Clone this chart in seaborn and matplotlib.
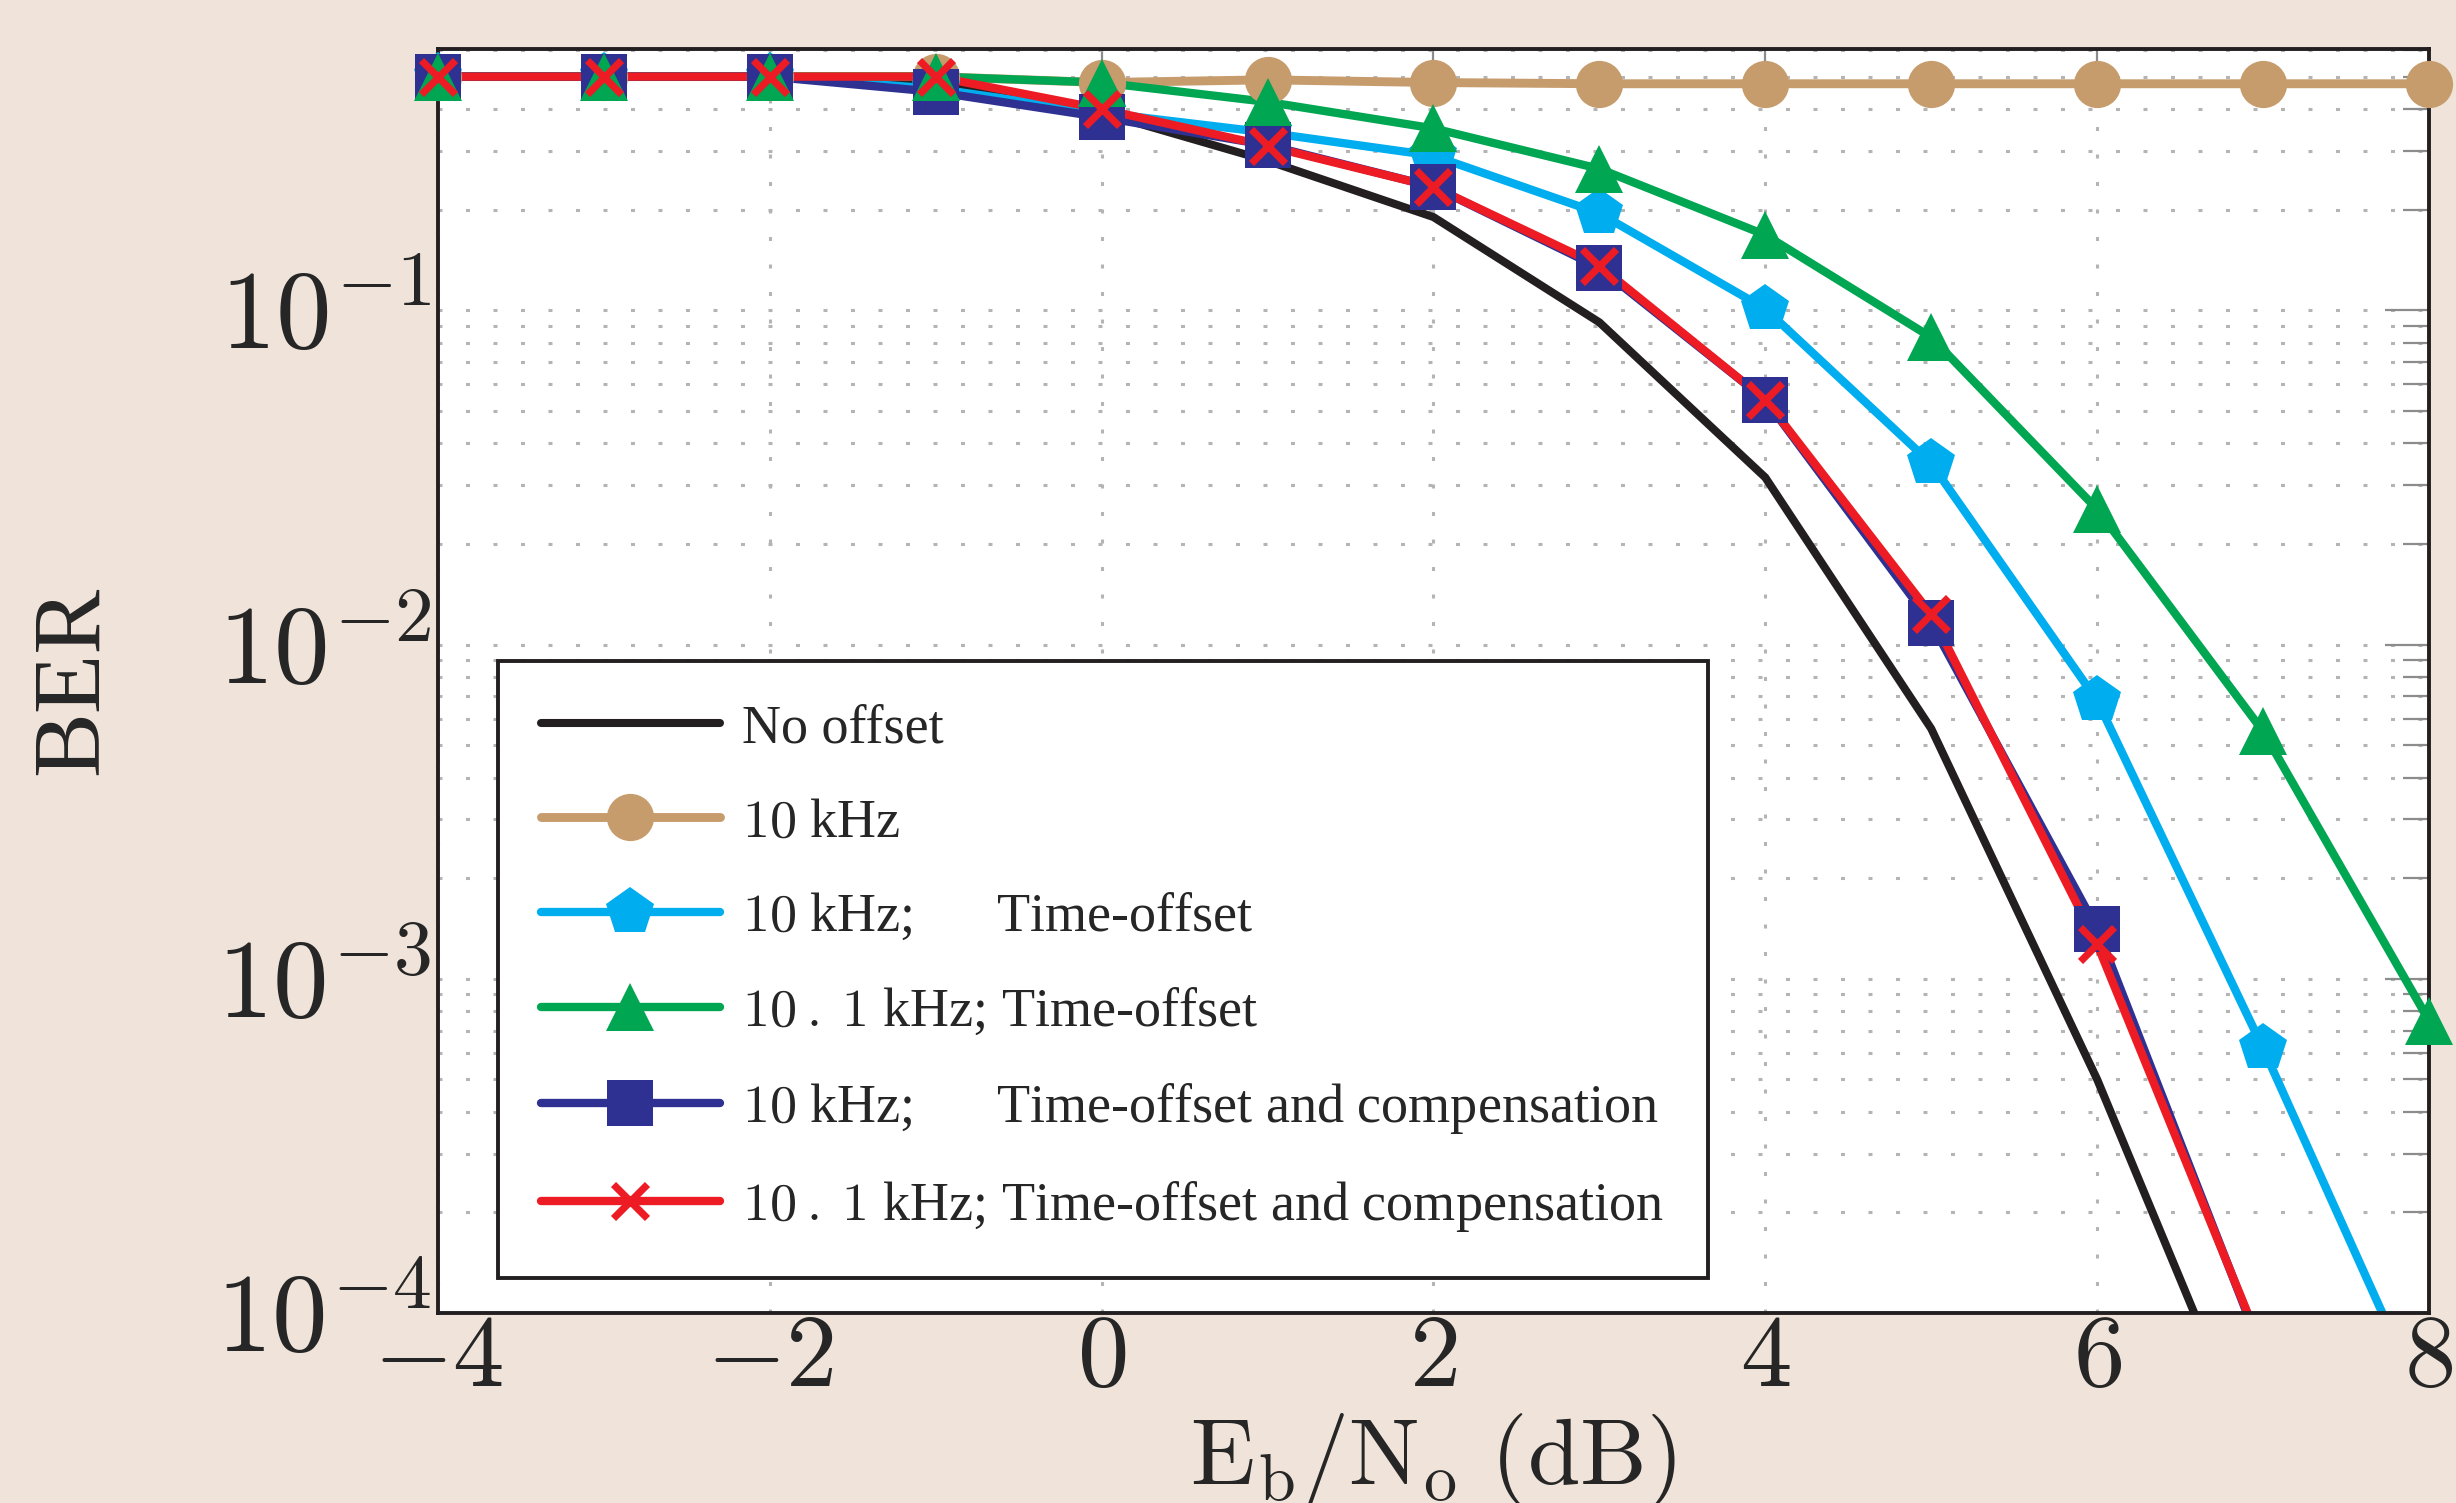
import matplotlib
matplotlib.use('Agg')
import matplotlib.pyplot as plt
from matplotlib.lines import Line2D
from matplotlib.ticker import LogLocator, NullFormatter
import seaborn as sns

# Eb/No (dB) and BER
snr = [-4, -3, -2, -1, 0, 1, 2, 3, 4, 5, 6, 7, 8]

ber_no_offset = [0.5, 0.5, 0.5, 0.49, 0.39, 0.28, 0.19, 0.092, 0.0316, 0.0056, 0.0005, 3.2e-5]
ber_10k = [0.5, 0.5, 0.5, 0.5, 0.48, 0.489, 0.48, 0.476, 0.476, 0.476, 0.476, 0.476, 0.476]
ber_10k_to = [0.5, 0.5, 0.5, 0.46, 0.39, 0.34, 0.29, 0.195, 0.101, 0.0348, 0.0068, 0.00062, 4.9e-5]
ber_101k_to = [0.5, 0.5, 0.5, 0.5, 0.48, 0.42, 0.35, 0.265, 0.168, 0.083, 0.0254, 0.0055, 0.00075]
ber_10k_comp = [0.5, 0.5, 0.5, 0.45, 0.378, 0.312, 0.234, 0.134, 0.054, 0.0116, 0.00141, 7.5e-5]
ber_101k_comp = [0.5, 0.5, 0.5, 0.5, 0.40, 0.31, 0.234, 0.136, 0.054, 0.0123, 0.00127, 7.7e-5]

labels = ['No offset',
          r'$10$ kHz',
          r'$10$ kHz;      Time-offset',
          r'$10\:.\:1$ kHz; Time-offset',
          r'$10$ kHz;      Time-offset and compensation ',
          r'$10\:.\:1$ kHz; Time-offset and compensation ']

xticks = [-4, -2, 0, 2, 4, 6, 8]
xtick_labels = [r'$-4$', r'$-2$', r'$0$', r'$2$', r'$4$', r'$6$', r'$8$']
yticks = [1e-4, 1e-3, 1e-2, 1e-1]
ytick_labels = [r'$10^{-4}$', r'$10^{-3}$', r'$10^{-2}$', r'$10^{-1}$']

bg = '#F0E4DA'
tick_col = '#8c8c8c'
grid_col = '#b4b4b4'

sns.set_theme(style='white')
plt.rcParams['font.family'] = ['Liberation Serif', 'DejaVu Serif']
plt.rcParams['mathtext.fontset'] = 'cm'

fig = plt.figure(figsize=(24.56, 15.03), dpi=100, facecolor=bg)
ax = fig.add_axes([0.1783, 0.1264, 0.8107, 0.8412])
ax.set_facecolor('white')
ax.set_yscale('log')

# series style: (data, color, marker, markersize, marker edge width, line width, marker zorder)
series = [
    (ber_no_offset, '#231F20', None, 0, 0, 5.8, 3.0),
    (ber_10k, '#C69C6D', 'o', 34, 0, 6.4, 3.1),
    (ber_10k_to, '#00AEEF', 'p', 36, 0, 6.0, 3.2),
    (ber_101k_to, '#00A651', '^', 34, 0, 6.0, 3.4),
    (ber_10k_comp, '#2E3192', 's', 33, 0, 6.0, 3.3),
    (ber_101k_comp, '#ED1C24', 'x', 24, 5.2, 6.0, 3.5),
]

handles = []
for i, (ber, col, mk, ms, mew, lw, mz) in enumerate(series):
    xs = snr[:len(ber)]
    sns.lineplot(x=xs, y=ber, ax=ax, color=col, linewidth=lw, zorder=2 + i * 0.1,
                 solid_joinstyle='miter')
    if mk is not None:
        # markers of visible points are drawn unclipped, as in the reference
        vis = [(x, y) for x, y in zip(xs, ber) if y >= 1e-4]
        sns.lineplot(x=[p[0] for p in vis], y=[p[1] for p in vis], ax=ax,
                     linestyle='none', marker=mk, ms=ms, color=col,
                     markerfacecolor=col, markeredgecolor=col,
                     markeredgewidth=mew, zorder=mz, clip_on=False)
    handles.append(Line2D([0], [0], color=col, lw=lw, marker=mk, ms=ms,
                          markerfacecolor=col, markeredgecolor=col,
                          markeredgewidth=mew))

ax.set_xlim(-4, 8)
ax.set_ylim(1e-4, 0.606)
ax.set_xticks(xticks, labels=xtick_labels)
ax.set_yticks(yticks, labels=ytick_labels)
ax.yaxis.set_minor_locator(LogLocator(base=10, subs=range(2, 10)))
ax.yaxis.set_minor_formatter(NullFormatter())
ax.xaxis.set_minor_locator(plt.NullLocator())

ax.tick_params(which='both', direction='in', top=True, right=True,
               color=tick_col, width=1.6)
ax.tick_params(which='major', length=32)
ax.tick_params(axis='x', which='major', pad=1, labelsize=74)
ax.tick_params(axis='y', which='major', pad=5, labelsize=80)
ax.tick_params(which='minor', length=19)

dots = (0, (1.3, 7.7))
ax.grid(True, axis='x', which='major', ls=dots, color=grid_col, lw=2.2)
ax.grid(True, axis='y', which='both', ls=dots, color=grid_col, lw=2.2)

for s in ax.spines.values():
    s.set_color('#231F20')
    s.set_linewidth(2.8)

ax.set_xlabel(r'$\mathrm{E_b/N_o\ (dB)}$', fontsize=68, labelpad=2)
ax.set_ylabel('BER', fontsize=70)
ax.yaxis.set_label_coords(-0.16, 0.5)

leg = ax.legend(handles, labels, loc='lower left', bbox_to_anchor=(0.03, 0.028),
                borderaxespad=0, fontsize=39, frameon=True, fancybox=False,
                framealpha=1, edgecolor='#231F20', handlelength=3.3,
                handletextpad=0.42, labelspacing=0.80, borderpad=0.8)
leg.get_frame().set_linewidth(2.8)
leg.set_zorder(10)

fig.savefig('out.png', dpi=100, facecolor=bg)
